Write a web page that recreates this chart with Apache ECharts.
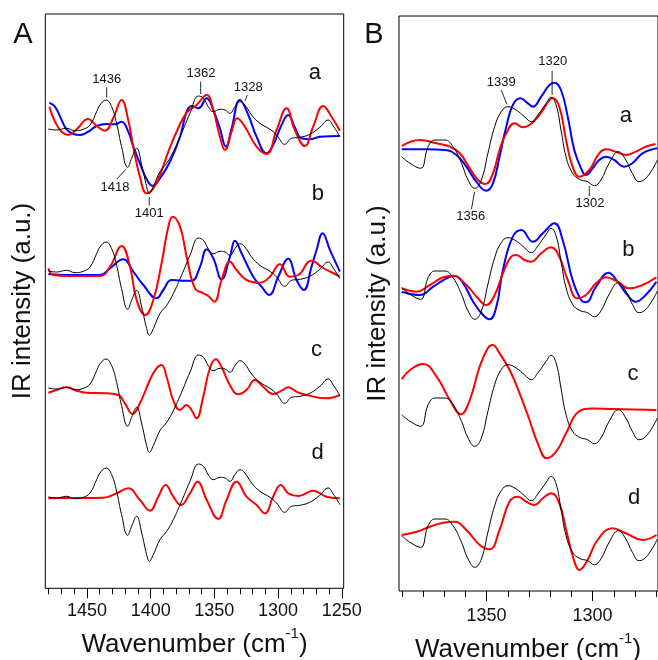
<!DOCTYPE html>
<html><head><meta charset="utf-8">
<script src="https://cdn.jsdelivr.net/npm/echarts@6/dist/echarts.min.js"></script>
<style>html,body{margin:0;padding:0;background:#fff}#c{width:658px;height:660px}</style>
</head><body><div id="c"></div>
<script>
// ---------- Panel A data: [wavenumber (cm-1), relative IR intensity (a.u.)] ----------
const A_black = [[1480.3,0],[1473.8,-1],[1466,0.7],[1459.4,-1.7],[1452.9,-0.3],[1447.6,4],[1442.4,17.3],[1439.8,24],[1435,29],[1430.6,22.3],[1426.7,5.7],[1422.8,-17.7],[1418,-38.3],[1414.9,-29.3],[1411,-19.3],[1407,-36],[1403.1,-57.7],[1401,-64.3],[1397.9,-57.7],[1392.7,-42.7],[1387.4,-34.3],[1382.2,-22.7],[1375.7,-4.3],[1369.1,15.7],[1362.3,33],[1358.6,30.7],[1354.7,22.3],[1350.8,17.3],[1345.6,19.7],[1341.6,19],[1337.7,15.7],[1333.8,22.3],[1329.9,27.3],[1326,24],[1320.7,14],[1314.2,5.7],[1306.3,-0.3],[1301.1,-6],[1294.6,-15.3],[1289.4,-9.3],[1282.8,-8.3],[1275,-5.3],[1267.1,1.7],[1260.6,9],[1256.6,3],[1251.4,-7.7]];
const A_blue_a = [[1479.5,26.3],[1475.1,22.3],[1469.9,9],[1466,-0.3],[1460.7,-5],[1455.5,-6],[1449,-2.7],[1442.4,3],[1434.6,5],[1428.1,4.7],[1422.8,7.3],[1417.6,-2.7],[1413.6,-17.7],[1408.4,-34.3],[1403.1,-50.3],[1398.4,-56.7],[1392.7,-49.3],[1384.8,-32.7],[1376.9,-7.7],[1371.7,17.3],[1367.8,23],[1362.5,20.7],[1356,30.7],[1350.8,19],[1345.6,0.7],[1340.9,-17.7],[1336.4,0.7],[1329.9,29],[1323.3,14],[1316.8,-7.7],[1309,-24.3],[1303.8,-16],[1297.2,4],[1292,14],[1286.8,1.7],[1281.5,-9.3],[1275,-10.3],[1267.1,-7.7],[1251.4,-7]];
const A_red_a = [[1479.5,22.3],[1475.1,7.3],[1469.9,-2.7],[1464.7,-6],[1458.1,-0.3],[1449,10],[1442.4,3],[1435.9,-1.7],[1429.4,10.7],[1422.8,29],[1417.6,9],[1413.6,-17.7],[1408.4,-47.7],[1403.1,-64.3],[1397.9,-59.3],[1392.7,-46],[1386.1,-22.7],[1379.6,-2.7],[1371.7,16.3],[1363.9,24],[1356,34],[1350.8,19],[1345.6,-7.7],[1341.6,-21],[1336.4,-2.7],[1332,10.7],[1326,2.3],[1316.8,-17.7],[1309,-25],[1301.1,-1],[1293.3,20.7],[1286.8,-1],[1278.9,-17],[1272.4,2.3],[1264.5,23],[1258,12.3],[1251.4,-1.7]];
const A_blue_b = [[1480.3,-3],[1466,-4],[1439.8,-4],[1431.9,2.7],[1421.5,11.7],[1413.6,-0.7],[1405.7,-14],[1395.3,-27.3],[1390.1,-19],[1383.6,-9],[1375.7,-9.7],[1367.8,-9.7],[1361.2,4.3],[1356,21.7],[1350.8,12.7],[1344.3,-8.3],[1337.7,14.3],[1333.8,30.3],[1328.6,17.7],[1319.4,-5.7],[1312.9,-15.7],[1306.9,-24],[1299.8,-5.7],[1292,12.3],[1285.4,-9],[1279.7,-19],[1273.7,4.3],[1269.7,21],[1265,37.7],[1259.2,21],[1251.4,-0.7]];
const A_red_b = [[1480.3,2.7],[1476.4,-4],[1466,-5],[1439.8,-5],[1431.9,4.3],[1422.8,25],[1416.2,4.3],[1411,-29],[1404.2,-44],[1397.9,-29],[1391.4,7.7],[1386.1,44.3],[1382.7,54.3],[1376.9,44.3],[1371.7,14.3],[1365.2,-17.3],[1358.6,-22.3],[1354.7,-25],[1350,-30.7],[1344.3,-9],[1337.7,9.3],[1332.5,1],[1324.7,-9],[1314.2,-11.7],[1306.4,-5.7],[1298.5,6.7],[1290.7,-5.7],[1284.1,-4],[1273.7,10.3],[1264.5,3],[1256.6,-2],[1251.4,-5.7]];
const A_red_c = [[1480.3,-4.7],[1473.8,-2],[1466,0.7],[1458.1,-2.7],[1450.3,-4.7],[1434.6,-5.3],[1425.4,-7],[1420.2,-15.3],[1414.2,-26],[1408.4,-15.3],[1400.6,8],[1395.4,19.7],[1391.4,23],[1387.5,11.3],[1382.3,-12],[1377,-22],[1371.8,-17],[1367.9,-22],[1364,-30.3],[1358.7,-8.7],[1353.5,19.7],[1348.8,28.7],[1344.4,21.3],[1337.8,3],[1331.3,-6.3],[1324.7,-2],[1318.2,8],[1311.7,1.3],[1303.8,-6],[1297.3,-2.7],[1292,0.7],[1285.5,-3.7],[1277.7,-7],[1262,-10.3],[1251.5,-7]];
const A_red_d = [[1480.3,-1.3],[1466,-1],[1437.2,-0.7],[1426.7,3.7],[1417.6,8.7],[1408.4,-3],[1400.5,-13.7],[1394,0.3],[1388.2,12],[1382.2,0.3],[1376.2,-8],[1369.1,3.7],[1363.1,15.3],[1356,-3],[1346.9,-22],[1340.4,-3],[1332.5,15.3],[1324.7,0.3],[1316.8,-8],[1310.3,-16.3],[1303.8,0.3],[1297.8,12],[1292,3.7],[1284.1,1],[1272.4,6.3],[1261.9,0.3],[1251.4,-1.3]];

// ---------- Panel B data ----------
const B_black = [[1390,-6.7],[1386.1,-13.3],[1381.1,-18.3],[1377.5,3.3],[1374.3,10],[1369.6,10],[1365.7,3.3],[1361.7,-13.3],[1358.6,-30],[1355.4,-38.3],[1352.3,-30],[1349.2,-3.3],[1346,23.3],[1342.9,38.3],[1339.7,43.3],[1335.8,40],[1331.9,33.3],[1328.7,28.3],[1325.6,35],[1321.6,46.7],[1319.3,52.7],[1316.9,45],[1314.6,20],[1312.2,-6.7],[1309.1,-23.3],[1305.9,-29.3],[1302,-31.7],[1298.8,-35.7],[1295.7,-30],[1291.8,-13.3],[1287.4,-1.7],[1283.9,-10],[1280.8,-23.3],[1277.6,-31.7],[1273.7,-26.7],[1269,-10]];
const B_blue_a = [[1390,0.7],[1378.3,0.7],[1369.6,0],[1364.1,-5],[1359.4,-16.7],[1354.7,-31.7],[1350,-40.7],[1346.8,-33.3],[1343.7,-6.7],[1340.5,23.3],[1337.4,45],[1333.9,51.7],[1330.3,46.7],[1327.9,43.3],[1324,53.3],[1320.1,65],[1317.7,67.3],[1314.6,60],[1311.4,33.3],[1308.3,0],[1305.1,-18.3],[1302.8,-25],[1299.6,-18.3],[1296.5,-10],[1293.3,-6.7],[1289.4,-10],[1284.7,-16.7],[1280.8,-13.3],[1276,-3.3],[1269,1.7]];
const B_red_a = [[1390,4],[1381.4,10],[1373.5,6.7],[1367.2,3.3],[1362.5,-3.3],[1357.8,-18.3],[1353.9,-30],[1350.4,-34],[1346.8,-23.3],[1343.7,0],[1340.5,16.7],[1336.5,26.7],[1332.6,22.7],[1329.5,25],[1324.8,35],[1320.1,50],[1318.5,51.7],[1315.4,43.3],[1312.2,10],[1309.1,-16.7],[1305.9,-26.7],[1301.2,-20],[1296.5,-3.3],[1293.3,0.7],[1288.6,-1.7],[1283.9,-5],[1279.2,-1.7],[1274.5,3.3],[1269.8,6]];
const B_blue_b = [[1390,-10.7],[1381.4,-14],[1375.1,-5.7],[1368.8,2.7],[1364.9,5],[1360.9,-2.3],[1356.2,-20.7],[1351.5,-34],[1348.4,-38.3],[1345.2,-25.7],[1342.1,11],[1337.4,44.3],[1333.4,51],[1327.9,39.3],[1323.2,47.7],[1317.7,57.7],[1313.8,41],[1309.1,1],[1305.1,-19],[1302.8,-21.3],[1298,-5.7],[1292.1,8.3],[1287.8,-0.7],[1283.1,-14],[1279.2,-20.7],[1274.5,-14],[1269.4,-0.7]];
const B_red_b = [[1390,-7.3],[1383,-10.7],[1376.7,-4],[1370.4,3.7],[1365.7,5.3],[1359.4,-4],[1353.9,-17.3],[1350,-24],[1346,-14],[1342.1,7.7],[1338.2,24.3],[1335.8,26],[1331.9,21],[1328.7,19.3],[1324,27.7],[1319.3,33.7],[1315.4,24.3],[1311.4,1],[1306.7,-17.3],[1302.8,-14],[1298,-2.3],[1293.3,3.7],[1287.8,-0.7],[1282.3,-7.3],[1276,-4],[1269.4,3.7]];
const B_red_c = [[1390,28.7],[1386.1,38],[1379.8,44],[1373.5,31.3],[1367.2,8],[1362,-6.3],[1357.8,8],[1353.1,41.3],[1349.2,60],[1347,63],[1343.7,54.7],[1338.9,38],[1334.2,14.7],[1329.5,-12],[1325.6,-35.3],[1321.3,-50.3],[1316.9,-43.7],[1312.2,-25.3],[1306.3,-3.7],[1300,-0.5],[1290.2,-1],[1269.4,-2]];
const B_red_d = [[1390,-6],[1383,-2.7],[1376.7,2.3],[1370.4,6.3],[1364.9,7.3],[1359.4,-1],[1353.1,-16],[1348.4,-20.3],[1343.7,-1],[1339,27.3],[1335,32.3],[1331.1,27.3],[1327.2,24],[1323.2,30.7],[1319.3,35.7],[1315.4,25.7],[1311.8,-4],[1308.6,-30],[1305.9,-41],[1302,-31],[1297.3,-11],[1290.2,0.7],[1283.9,-4.3],[1276,-11],[1269.4,-6]];

// tick labels
const ticksA = [1450, 1400, 1350, 1300, 1250];
const ticksB = [1350, 1300];

// ---------- layout ----------
const FONT = 'Liberation Sans, Arial, Helvetica, sans-serif';
const RED = '#ff0000', BLUE = '#0000ff', BLACK = '#000000';
const offA = {a: 459.3, b: 317.3, c: 200.3, d: 91.3};   // vertical stacking of traces
const offB = {a: 441, b: 310, c: 183, d: 62};
const H_A = 574.3, H_B = 575;

function shift(pairs, off) { return pairs.map(p => [p[0], p[1] + off]); }
function line(grid, pairs, off, color, width, z) {
  return {type: 'line', xAxisIndex: grid, yAxisIndex: grid, data: shift(pairs, off),
    showSymbol: false, symbol: 'none', smooth: 0.45, silent: true, z: z,
    lineStyle: {color: color, width: width}, emphasis: {disabled: true}};
}

const series = [
  line(0, A_blue_a, offA.a, BLUE, 2, 2), line(0, A_red_a, offA.a, RED, 2, 3), line(0, A_black, offA.a, BLACK, 1, 4),
  line(0, A_blue_b, offA.b, BLUE, 2, 2), line(0, A_red_b, offA.b, RED, 2, 3), line(0, A_black, offA.b, BLACK, 1, 4),
  line(0, A_red_c, offA.c, RED, 2, 3), line(0, A_black, offA.c, BLACK, 1, 4),
  line(0, A_red_d, offA.d, RED, 2, 3), line(0, A_black, offA.d, BLACK, 1, 4),
  line(3, B_blue_a, offB.a, BLUE, 2, 2), line(3, B_red_a, offB.a, RED, 2, 3), line(3, B_black, offB.a, BLACK, 1, 4),
  line(3, B_blue_b, offB.b, BLUE, 2, 2), line(3, B_red_b, offB.b, RED, 2, 3), line(3, B_black, offB.b, BLACK, 1, 4),
  line(3, B_red_c, offB.c, RED, 2, 3), line(3, B_black, offB.c, BLACK, 1, 4),
  line(3, B_red_d, offB.d, RED, 2, 3), line(3, B_black, offB.d, BLACK, 1, 4)
];

const hidden = {axisLine: {show: false}, axisTick: {show: false}, axisLabel: {show: false}, splitLine: {show: false}};
function tickAxis(grid, min, max, interval, len, labels, margin, allowed) {
  return {type: 'value', gridIndex: grid, inverse: true, min: min, max: max, interval: interval,
    axisLine: {show: false}, splitLine: {show: false},
    axisTick: {show: true, inside: false, length: len, lineStyle: {color: BLACK, width: 1}},
    axisLabel: {show: labels, fontSize: 18, fontFamily: FONT, color: '#111', margin: margin,
      formatter: v => (allowed && allowed.indexOf(v) >= 0) ? String(v) : ''}};
}

const option = {
  animation: false,
  backgroundColor: '#ffffff',
  grid: [
    {left: 45.3, top: 14, width: 298.4, height: H_A, show: true, borderColor: BLACK, borderWidth: 1, backgroundColor: 'transparent'},
    {left: 48.74, top: 14, width: 293.02, height: H_A},
    {left: 86.96, top: 14, width: 254.8, height: H_A},
    {left: 399, top: 16, width: 260, height: H_B, show: true, borderColor: BLACK, borderWidth: 1, backgroundColor: 'transparent'},
    {left: 401.76, top: 16, width: 254.4, height: H_B},
    {left: 486.56, top: 16, width: 106, height: H_B}
  ],
  xAxis: [
    Object.assign({type: 'value', gridIndex: 0, inverse: true, min: 1248.4, max: 1482.7}, hidden),
    tickAxis(1, 1250, 1480, 10, 6, false, 14, null),
    tickAxis(2, 1250, 1450, 50, 10, true, 14, ticksA),
    Object.assign({type: 'value', gridIndex: 3, inverse: true, min: 1268.66, max: 1391.3}, hidden),
    tickAxis(4, 1270, 1390, 10, 6, false, 16, null),
    tickAxis(5, 1300, 1350, 50, 10, true, 16, ticksB)
  ],
  yAxis: [0,1,2,3,4,5].map(g => Object.assign({type: 'value', gridIndex: g, min: 0, max: g < 3 ? H_A : H_B, show: false}, hidden)),
  series: series
};

const chart = echarts.init(document.getElementById('c'), null, {renderer: 'canvas'});
chart.setOption(option);

// ---------- annotations (text + leader lines, placed in data coordinates) ----------
const annA = [
  {t: '1436', p: [1434.5, 509], l: [[1434.5, 501], [1434.5, 490.6]]},
  {t: '1362', p: [1360.5, 515], l: [[1360.7, 506.6], [1360.7, 494.3]]},
  {t: '1328', p: [1323.4, 500.6], l: [[1324.1, 493.3], [1325.9, 487.3]]},
  {t: '1418', p: [1428, 400.6], l: [[1426.7, 409], [1419.4, 419]]},
  {t: '1401', p: [1401.1, 375], l: [[1401.1, 391.6], [1401.1, 382.6]]}
];
const annB = [
  {t: '1320', p: [1318.5, 530], l: [[1318.8, 520.3], [1318.8, 496]]},
  {t: '1339', p: [1342.9, 508.3], l: [[1342.9, 501], [1340.2, 486.7]]},
  {t: '1356', p: [1357.3, 374.3], l: [[1357, 381.7], [1355.5, 399.3]]},
  {t: '1302', p: [1300.9, 387.7], l: [[1301.2, 405], [1301.2, 395]]}
];
const lettersA = [['a', 1271.1, 515], ['b', 1268.7, 394.3], ['c', 1269.7, 238.3], ['d', 1268.9, 135]];
const lettersB = [['a', 1283.9, 475], ['b', 1282.7, 341], ['c', 1280.5, 217], ['d', 1280, 92.7]];

function txt(x, y, text, size, extra) {
  return Object.assign({type: 'text', x: x, y: y, silent: true, z: 10,
    style: {text: text, font: size + 'px ' + FONT, fill: '#111', align: 'center', verticalAlign: 'middle',
      textAlign: 'center', textVerticalAlign: 'middle'}}, extra || {});
}
const g = [];
function addAnn(list, grid) {
  list.forEach(a => {
    const p = chart.convertToPixel({gridIndex: grid}, a.p);
    g.push(txt(p[0], p[1], a.t, 13));
    const p1 = chart.convertToPixel({gridIndex: grid}, a.l[0]);
    const p2 = chart.convertToPixel({gridIndex: grid}, a.l[1]);
    g.push({type: 'line', silent: true, z: 10, shape: {x1: p1[0], y1: p1[1], x2: p2[0], y2: p2[1]},
      style: {stroke: '#111', lineWidth: 0.9}});
  });
}
function addLetters(list, grid) {
  list.forEach(l => {
    const p = chart.convertToPixel({gridIndex: grid}, [l[1], l[2]]);
    g.push(txt(p[0], p[1], l[0], 22));
  });
}
addAnn(annA, 0); addAnn(annB, 3);
addLetters(lettersA, 0); addLetters(lettersB, 3);

// panel letters
g.push(txt(23, 35, 'A', 29));
g.push(txt(374, 35, 'B', 29));
// axis titles
g.push(txt(22.5, 301, 'IR intensity (a.u.)', 26, {rotation: Math.PI / 2}));
g.push(txt(378, 303.5, 'IR intensity (a.u.)', 26, {rotation: Math.PI / 2}));
function xTitle(x, y) {
  return {type: 'text', x: x, y: y, silent: true, z: 10,
    style: {text: '{m|Wavenumber (cm}{s|-1}{m|)}', align: 'center', verticalAlign: 'middle',
      textAlign: 'center', textVerticalAlign: 'middle', fill: '#111',
      rich: {m: {fontSize: 26, fontFamily: FONT, fill: '#111', color: '#111', lineHeight: 38},
             s: {fontSize: 15, fontFamily: FONT, fill: '#111', color: '#111', verticalAlign: 'top', lineHeight: 15}}}};
}
g.push(xTitle(194.5, 645));
g.push(xTitle(528, 650));

chart.setOption({graphic: {elements: g}});
</script></body></html>
